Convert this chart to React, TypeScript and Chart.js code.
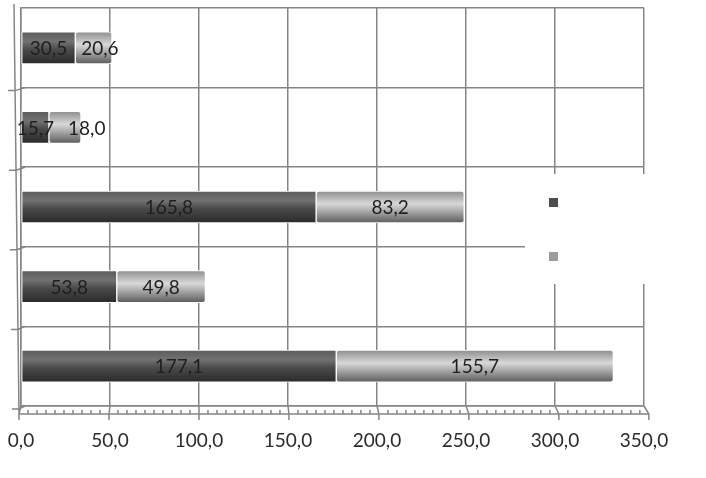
import React, { useEffect, useRef } from 'react';
import { Chart, registerables } from 'chart.js';

Chart.register(...registerables);

const categories = ['', '', '', '', ''];
const seriesA = [30.5, 15.7, 165.8, 53.8, 177.1];
const seriesB = [20.6, 18.0, 83.2, 49.8, 155.7];
const axisMin = 0;
const axisMax = 350;
const axisStep = 50;

const GRID = '#858585';
const FONT = 'Lato, "Open Sans", sans-serif';

const fmt = (v: number) => v.toFixed(1).replace('.', ',');

// cylinder-like vertical shading per bar
const shade = (stops: [number, string][]) => (ctx: any) => {
  const chart = ctx.chart;
  const y = chart.scales?.y;
  if (!y || ctx.type !== 'data') return stops[1][1];
  const c = y.getPixelForValue(ctx.dataIndex);
  if (!Number.isFinite(c)) return stops[1][1];
  const g = chart.ctx.createLinearGradient(0, c - 16, 0, c + 16);
  stops.forEach(([o, col]) => g.addColorStop(o, col));
  return g;
};

const darkStops: [number, string][] = [
  [0, '#5c5c5c'], [0.3, '#727272'], [0.55, '#4a4a4a'], [1, '#2a2a2a'],
];
const lightStops: [number, string][] = [
  [0, '#8e8e8e'], [0.4, '#d8d8d8'], [0.62, '#ababab'], [1, '#5c5c5c'],
];

// 3D floor / depth lines around the back wall
const frame = {
  id: 'frame',
  beforeDatasetsDraw(chart: any) {
    const { ctx } = chart;
    const x = chart.scales.x;
    const y = chart.scales.y;
    const front = (v: number) => x.left - 2 + (x.getPixelForValue(v) - x.left) * 1.011;
    const fy = y.bottom + 8;
    ctx.save();
    ctx.strokeStyle = GRID;
    ctx.lineWidth = 1.5;
    ctx.beginPath();
    ctx.moveTo(front(axisMin), fy);
    ctx.lineTo(front(axisMax), fy);
    for (let v = axisMin; v <= axisMax; v += axisStep) {
      ctx.moveTo(x.getPixelForValue(v), y.bottom);
      ctx.lineTo(front(v), fy);
      ctx.lineTo(front(v), fy + 6);
    }
    for (let v = axisMin; v <= axisMax; v += 5) {
      if (v % axisStep === 0) continue;
      ctx.moveTo(front(v), fy);
      ctx.lineTo(front(v), fy - 4);
    }
    // left depth axis
    const lx0 = x.left - 7;
    const lx1 = x.left - 2;
    ctx.moveTo(lx0, y.top - 4);
    ctx.lineTo(lx1, fy);
    const n = categories.length;
    for (let i = 1; i <= n; i++) {
      const yy = y.top + ((y.bottom - y.top) * i) / n;
      const t = (yy - y.top) / (fy - y.top);
      const ax = lx0 + (lx1 - lx0) * t;
      ctx.moveTo(ax - 7, yy + 3);
      ctx.lineTo(ax, yy + 3);
      ctx.lineTo(x.left + 4, yy);
    }
    ctx.stroke();
    ctx.restore();
  },
};

// centred value labels, nudged right when a row's labels would collide
const valueLabels = {
  id: 'valueLabels',
  afterDatasetsDraw(chart: any) {
    const { ctx } = chart;
    ctx.save();
    ctx.font = `19px ${FONT}`;
    ctx.fillStyle = '#1e1e1e';
    ctx.textAlign = 'center';
    ctx.textBaseline = 'middle';
    categories.forEach((_, i) => {
      let prevRight = -Infinity;
      chart.data.datasets.forEach((ds: any, di: number) => {
        const el = chart.getDatasetMeta(di).data[i];
        if (!el) return;
        const p = el.getCenterPoint();
        const txt = fmt(ds.data[i]);
        const w = ctx.measureText(txt).width;
        let cx = p.x;
        if (cx - w / 2 < prevRight + 14) cx = prevRight + 14 + w / 2;
        ctx.fillText(txt, cx, p.y + 1);
        prevRight = cx + w / 2;
      });
    });
    ctx.restore();
  },
};

// legend box without text, sitting over the wall
const legendBox = {
  id: 'legendBox',
  afterDatasetsDraw(chart: any) {
    const { ctx } = chart;
    ctx.save();
    ctx.fillStyle = '#fff';
    ctx.fillRect(525, 174, 181, 110);
    ctx.fillStyle = '#4d4d4d';
    ctx.fillRect(549, 198, 9, 9);
    ctx.fillStyle = '#9c9c9c';
    ctx.fillRect(549, 252, 9, 9);
    ctx.restore();
  },
};

export default function App() {
  const chartRef = useRef<HTMLCanvasElement>(null);
  const chartInstance = useRef<Chart | null>(null);

  useEffect(() => {
    document.body.style.margin = '0';
    if (!chartRef.current) return;
    if (chartInstance.current) chartInstance.current.destroy();
    const ctx = chartRef.current.getContext('2d');
    if (!ctx) return;

    chartInstance.current = new Chart(ctx, {
      type: 'bar',
      data: {
        labels: categories,
        datasets: [
          {
            label: 'A',
            data: seriesA,
            backgroundColor: shade(darkStops),
            borderColor: '#fff',
            borderWidth: 1,
            borderSkipped: false,
            borderRadius: 3,
            barThickness: 32,
          },
          {
            label: 'B',
            data: seriesB,
            backgroundColor: shade(lightStops),
            borderColor: '#fff',
            borderWidth: 1,
            borderSkipped: false,
            borderRadius: 3,
            barThickness: 32,
          },
        ],
      },
      options: {
        indexAxis: 'y',
        responsive: true,
        maintainAspectRatio: false,
        animation: false,
        layout: { padding: { top: 8, right: 62, left: 0, bottom: 0 } },
        plugins: {
          legend: { display: false },
          tooltip: { enabled: false },
        },
        scales: {
          x: {
            stacked: true,
            min: axisMin,
            max: axisMax,
            grid: { color: GRID, lineWidth: 1.5, drawTicks: true, tickLength: 23, tickColor: 'rgba(0,0,0,0)' },
            border: { color: GRID, width: 1.5 },
            ticks: {
              stepSize: axisStep,
              padding: 0,
              color: '#2b2b2b',
              font: { family: FONT, size: 19 },
              callback: (v: any) => fmt(Number(v)),
            },
            afterFit: (s: any) => { s.height = 72; },
          },
          y: {
            stacked: true,
            grid: { color: GRID, lineWidth: 1.5, drawTicks: false, offset: true },
            border: { color: GRID, width: 1.5 },
            ticks: { display: false },
            afterFit: (s: any) => { s.width = 21; },
          },
        },
      },
      plugins: [frame, valueLabels, legendBox],
    });

    return () => {
      if (chartInstance.current) {
        chartInstance.current.destroy();
        chartInstance.current = null;
      }
    };
  }, []);

  return (
    <div style={{ position: 'relative', width: 706, height: 478, background: '#fff' }}>
      <canvas ref={chartRef} />
    </div>
  );
}
